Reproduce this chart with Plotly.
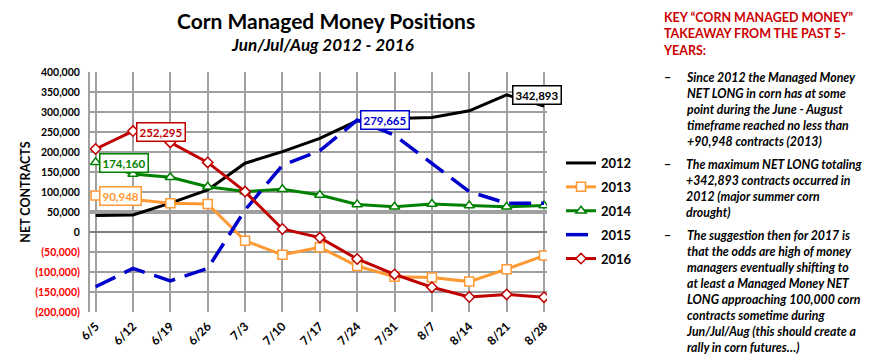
import plotly.graph_objects as go

dates = ["6/5", "6/12", "6/19", "6/26", "7/3", "7/10", "7/17", "7/24", "7/31", "8/7", "8/14", "8/21", "8/28"]
y2012 = [41000, 42500, 72000, 105000, 172000, 201000, 234000, 278000, 284000, 286000, 303000, 342893, 315000]
y2013 = [90948, 82000, 72000, 70000, -22000, -57000, -38000, -85000, -112000, -114000, -124000, -93000, -59000]
y2014 = [174160, 145000, 137000, 113000, 101000, 107000, 92500, 69000, 63000, 70000, 66000, 63000, 66000]
y2015 = [-137000, -91000, -122000, -91000, 55000, 167000, 203000, 279665, 242000, 172000, 101000, 72000, 72000]
y2016 = [207500, 252295, 224000, 174000, 101000, 7500, -14000, -67500, -106000, -138000, -162500, -156000, -163000]
yticks = [400000, 350000, 300000, 250000, 200000, 150000, 100000, 50000, 0, -50000, -100000, -150000, -200000]

FONT = "Lato"
L, R, T, B = 90, 547, 72, 312
W, H = 883, 360

def px(x):
    return (x - L) / (R - L)

def py(y):
    return (B - y) / (B - T)

def fmt(v):
    if v < 0:
        return f"<span style='color:#FF0000'><b>({abs(v):,})</b></span>"
    return f"<b>{v:,}</b>"

x = list(range(len(dates)))
fig = go.Figure()
fig.add_trace(go.Scatter(x=x, y=y2012, name="<b>2012</b>", legendgroup="a", mode="lines",
                         line=dict(color="#000000", width=3)))
fig.add_trace(go.Scatter(x=x, y=y2013, name="<b>2013</b>", legendgroup="b", mode="lines+markers",
                         line=dict(color="#FF9933", width=3),
                         marker=dict(symbol="square", size=9, color="white",
                                     line=dict(color="#FF9933", width=1.5))))
fig.add_trace(go.Scatter(x=x, y=y2014, name="<b>2014</b>", legendgroup="c", mode="lines+markers",
                         line=dict(color="#008000", width=3),
                         marker=dict(symbol="triangle-up", size=9, color="white",
                                     line=dict(color="#008000", width=1.5))))
fig.add_trace(go.Scatter(x=x, y=y2015, name="<b>2015</b>", legendgroup="d", mode="lines",
                         line=dict(color="#0000CC", width=3.5, dash="22px,10px")))
fig.add_trace(go.Scatter(x=x, y=y2016, name="<b>2016</b>", legendgroup="e", mode="lines+markers",
                         line=dict(color="#C00000", width=3),
                         marker=dict(symbol="diamond", size=8, color="white",
                                     line=dict(color="#C00000", width=1.5))))

# 50,000 reference line
fig.add_shape(type="line", xref="paper", yref="y", x0=0, x1=1, y0=50000, y1=50000,
              line=dict(color="#404040", width=3), layer="below")

# value callouts
callouts = [
    (y2016[1], "#C00000", 161, 132),
    (y2014[0], "#008000", 124, 163),
    (y2013[0], "#FF9933", 120, 196),
    (y2015[7], "#0000CC", 385, 120),
    (y2012[11], "#000000", 537, 95),
]
for v, c, cx, cy in callouts:
    fig.add_annotation(x=px(cx), y=py(cy), xref="paper", yref="paper",
                       xanchor="center", yanchor="middle",
                       text=f"<b>{v:,}</b>", showarrow=False,
                       font=dict(family=FONT, size=11.5, color=c),
                       bgcolor="white", bordercolor=c, borderwidth=1.5, borderpad=2)

# title
fig.add_annotation(x=px(326), y=py(20), xref="paper", yref="paper", showarrow=False,
                   xanchor="center", yanchor="middle",
                   text="<b>Corn Managed Money Positions</b>",
                   font=dict(family=FONT, size=21, color="black"))
fig.add_annotation(x=px(322), y=py(45), xref="paper", yref="paper", showarrow=False,
                   xanchor="center", yanchor="middle",
                   text="<b><i>Jun/Jul/Aug 2012 - 2016</i></b>",
                   font=dict(family=FONT, size=17, color="black"))

# right-hand text
fig.add_annotation(x=px(661), y=py(8), xref="paper", yref="paper", showarrow=False,
                   xanchor="left", yanchor="top", align="left",
                   text="<b>KEY “CORN MANAGED MONEY”<br>TAKEAWAY FROM THE PAST 5-<br>YEARS:</b>",
                   font=dict(family=FONT, size=12.5, color="#CC0000"))
bullets = [
    (77, "Since 2012 the Managed Money<br>NET LONG in corn has at some<br>point during the June - August<br>timeframe reached no less than<br>+90,948 contracts (2013)"),
    (164, "The maximum NET LONG totaling<br>+342,893 contracts occurred in<br>2012 (major summer corn<br>drought)"),
    (235, "The suggestion then for 2017 is<br>that the odds are high of money<br>managers eventually shifting to<br>at least a Managed Money NET<br>LONG approaching 100,000 corn<br>contracts sometime during<br>Jun/Jul/Aug (this should create a<br>rally in corn futures…)"),
]
for ty, txt in bullets:
    fig.add_annotation(x=px(662), y=py(ty), xref="paper", yref="paper", showarrow=False,
                       xanchor="left", yanchor="middle", text="<b>–</b>",
                       font=dict(family=FONT, size=12.3, color="black"))
    fig.add_annotation(x=px(684), y=py(ty - 9), xref="paper", yref="paper", showarrow=False,
                       xanchor="left", yanchor="top", align="left",
                       text=f"<b><i>{txt}</i></b>",
                       font=dict(family=FONT, size=12.3, color="black"))

fig.update_layout(
    width=W, height=H,
    margin=dict(l=L, r=W - R, t=T, b=H - B, pad=0),
    plot_bgcolor="white", paper_bgcolor="white",
    showlegend=True,
    legend=dict(x=px(561), y=py(148), xanchor="left", yanchor="top",
                font=dict(family=FONT, size=13, color="black"),
                tracegroupgap=4, itemwidth=30, bgcolor="rgba(0,0,0,0)"),
    font=dict(family=FONT),
)
fig.update_xaxes(range=[-0.15, 12.08], tickmode="array", tickvals=x,
                 ticktext=[f"<b>{d}</b>" for d in dates], tickangle=-45,
                 tickfont=dict(family=FONT, size=12, color="black"),
                 ticklabelstandoff=4,
                 showgrid=True, gridcolor="#A0A0A0", gridwidth=1.5,
                 zeroline=False, showline=False, ticks="", automargin=False)
fig.update_yaxes(range=[-200000, 400000], tickmode="array", tickvals=yticks,
                 ticktext=[fmt(v) for v in yticks],
                 tickfont=dict(family=FONT, size=10.5, color="black"),
                 ticklabelstandoff=6,
                 showgrid=True, gridcolor="#A0A0A0", gridwidth=1.5,
                 zeroline=True, zerolinecolor="#808080", zerolinewidth=2,
                 showline=True, linecolor="#A0A0A0", linewidth=2, ticks="", automargin=False,
                 title=dict(text="<b>NET CONTRACTS</b>", font=dict(family=FONT, size=12.5, color="black"),
                            standoff=2))

fig.write_html("out.html", config={"displayModeBar": False},
               post_script="document.body.style.margin='0px';document.body.style.padding='0px';")
